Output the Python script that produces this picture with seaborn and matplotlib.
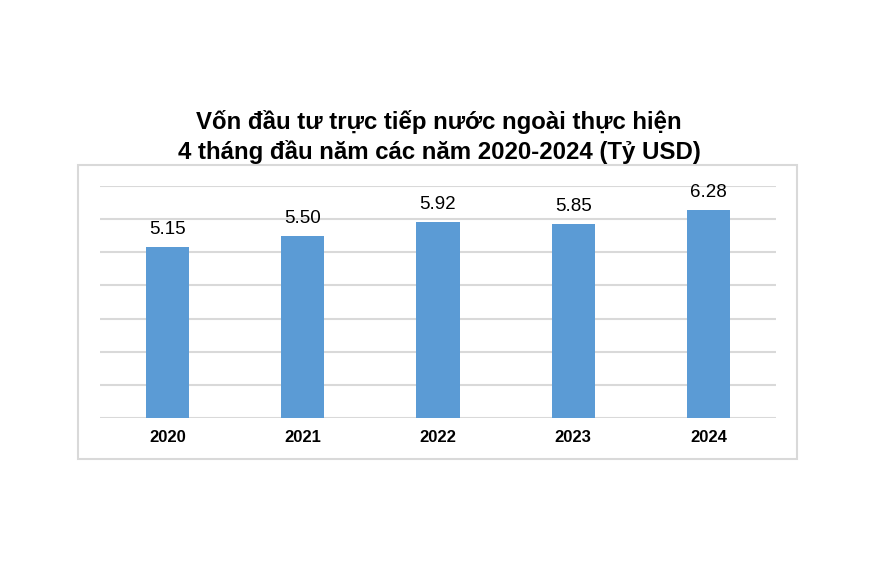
import matplotlib
matplotlib.use("Agg")
import matplotlib.pyplot as plt
import pandas as pd
import seaborn as sb
from matplotlib.patches import Rectangle

years = ["2020", "2021", "2022", "2023", "2024"]
values = [5.15, 5.50, 5.92, 5.85, 6.28]
title = "Vốn đầu tư trực tiếp nước ngoài thực hiện\n4 tháng đầu năm các năm 2020-2024 (Tỷ USD)"

sb.set_theme(style="white")
plt.rcParams["font.family"] = ["Liberation Sans", "DejaVu Sans"]

W, H = 882, 574
fig = plt.figure(figsize=(W / 100, H / 100), dpi=100)
ax = fig.add_axes([100 / W, 1 - 418 / H, 676 / W, 232 / H])

data = pd.DataFrame({"year": years, "value": values})
sb.barplot(data=data, x="year", y="value", color="#5b9bd5", saturation=1,
           width=0.32, linewidth=0, ax=ax)

ax.set_ylim(0, 7)
ax.set_xlim(-0.5, 4.5)
ax.set_yticks(range(0, 8))
ax.yaxis.grid(True, color="#d9d9d9", linewidth=1.5)
ax.set_axisbelow(True)
for s in ax.spines.values():
    s.set_visible(False)
ax.tick_params(axis="y", left=False, labelleft=False)
ax.tick_params(axis="x", bottom=False, pad=3)
for lab in ax.get_xticklabels():
    lab.set_fontweight("bold")
    lab.set_fontsize(12)
    lab.set_color("black")
ax.set_xlabel("")
ax.set_ylabel("")

for i, v in enumerate(values):
    ax.annotate(f"{v:.2f}", (i, v), xytext=(0, 6.5), textcoords="offset points",
                ha="center", va="bottom", fontsize=13.5, color="black")

fig.patches.append(Rectangle((78 / W, 1 - 459 / H), 719 / W, 294 / H,
                             transform=fig.transFigure, fill=False,
                             edgecolor="#d9d9d9", linewidth=1.5))

fig.text(439 / W, 1 - 137 / H, title, ha="center", va="center",
         fontsize=17.3, fontweight="bold", linespacing=1.28, color="black")

fig.savefig("out.png", dpi=100)
